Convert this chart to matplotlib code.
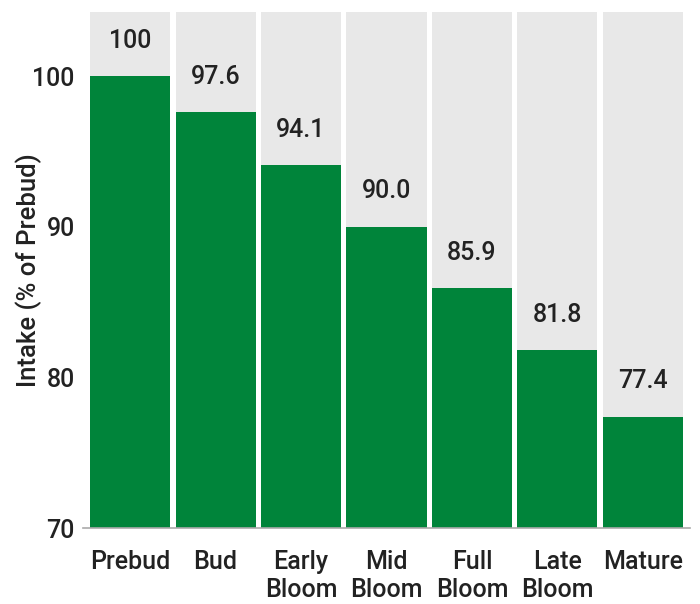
import matplotlib
matplotlib.use("Agg")
import matplotlib.pyplot as plt

categories = ["Prebud", "Bud", "Early\nBloom", "Mid\nBloom", "Full\nBloom", "Late\nBloom", "Mature"]
values = [100, 97.6, 94.1, 90.0, 85.9, 81.8, 77.4]
value_labels = ["100", "97.6", "94.1", "90.0", "85.9", "81.8", "77.4"]
yticks = [70, 80, 90, 100]

plt.rcParams['font.family'] = ['Roboto', 'DejaVu Sans']
fig = plt.figure(figsize=(7.0, 6.04), dpi=100)
ax = fig.add_axes([0.1186, 0.1258, 0.8671, 0.8543])

ymin, ymax = 70, 104.25
x = list(range(len(categories)))
ax.bar(x, [ymax - ymin] * len(x), bottom=ymin, width=0.936, color="#e8e8e8", zorder=1)
ax.bar(x, [v - ymin for v in values], bottom=ymin, width=0.936, color="#00843a", zorder=2)
for xi, v, lab in zip(x, values, value_labels):
    ax.text(xi, v + 2.35, lab, ha="center", va="center", fontsize=18, fontweight="medium", color="#222222", zorder=3)

ax.set_xlim(-0.55, 6.55)
ax.set_ylim(ymin, ymax)
ax.set_yticks(yticks)
ax.set_yticklabels([str(t) for t in yticks])
ax.set_xticks(x)
ax.set_xticklabels(categories, linespacing=1.2)
ax.tick_params(axis="both", length=0, labelsize=18, labelcolor="#222222")
ax.tick_params(axis="x", pad=16)
ax.tick_params(axis="y", pad=6)
for lab in ax.get_xticklabels() + ax.get_yticklabels():
    lab.set_fontweight("medium")
for s in ["top", "right", "left"]:
    ax.spines[s].set_visible(False)
ax.spines["bottom"].set_color("#aaaaaa")
ax.spines["bottom"].set_linewidth(1.2)
ax.spines["bottom"].set_zorder(4)
ax.set_ylabel("Intake (% of Prebud)", fontsize=18.5, fontweight="medium", color="#222222")
ax.yaxis.set_label_coords(-41 / 607.0, 0.5)
ax.set_facecolor("white")

fig.savefig("out.png", dpi=100)
